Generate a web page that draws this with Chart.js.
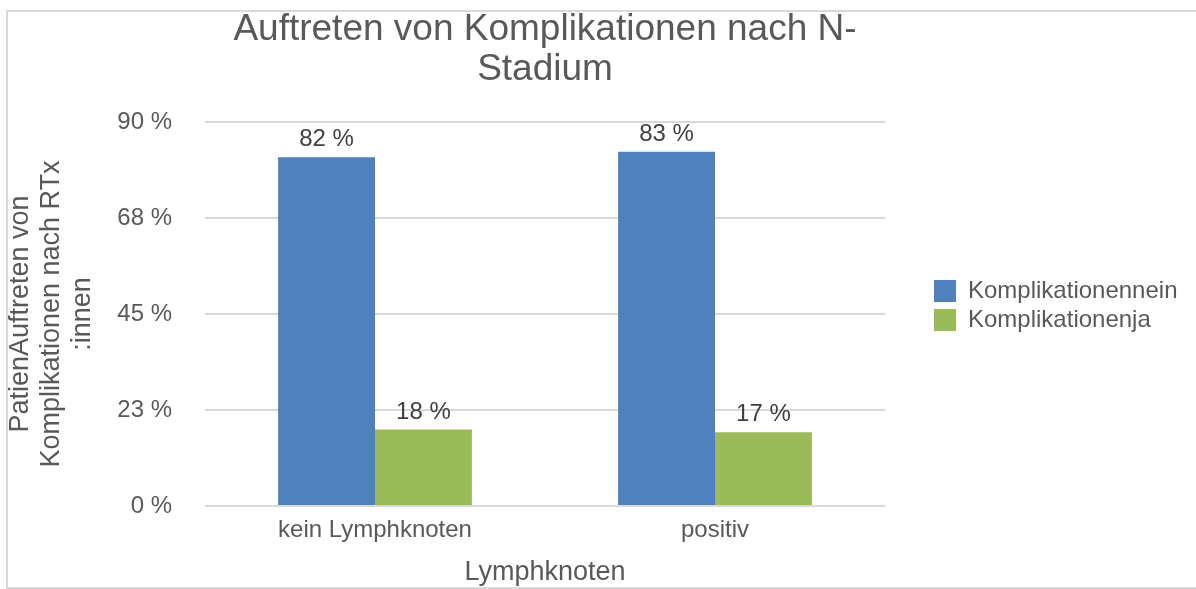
<!DOCTYPE html>
<html>
<head>
<meta charset="utf-8">
<script src="https://cdn.jsdelivr.net/npm/chart.js@4"></script>
<style>
  body { margin: 0; background: #fff; overflow: hidden; }
  #frame {
    position: absolute; left: 6px; top: 10px;
    width: 1200px; height: 579px;
    border: 2px solid #d9d9d9; box-sizing: border-box;
  }
  #wrap { position: absolute; left: 0; top: 0; width: 1188px; height: 575px; }
</style>
</head>
<body>
<div id="frame"><div id="wrap"><canvas id="mychart"></canvas></div></div>
<script>
// Daten
const categories = ["kein Lymphknoten", "positiv"];
const komplikationenNein = [81.7, 83.0];
const komplikationenJa = [17.9, 17.3];
const valueLabels = [["82 %", "83 %"], ["18 %", "17 %"]];
const yTicks = [0, 22.5, 45, 67.5, 90];
const yTickLabels = ["0 %", "23 %", "45 %", "68 %", "90 %"];

const FONT = "'Liberation Sans', Arial, sans-serif";

// Werte über den Balken
const barLabels = {
  id: "barLabels",
  afterDatasetsDraw(chart) {
    const c = chart.ctx;
    c.save();
    c.font = "24px " + FONT;
    c.fillStyle = "#404040";
    c.textAlign = "center";
    c.textBaseline = "alphabetic";
    chart.data.datasets.forEach((ds, i) => {
      chart.getDatasetMeta(i).data.forEach((bar, j) => {
        c.fillText(valueLabels[i][j], bar.x, bar.y - 11);
      });
    });
    c.restore();
  },
};

// Legende: etwas Abstand zum Diagramm
const legendGap = {
  id: "legendGap",
  beforeLayout(chart) {
    const lg = chart.legend;
    if (lg && !lg._gapPatched) {
      const fit = lg.fit.bind(lg);
      lg.fit = function () {
        fit();
        this.width = 311;
      };
      lg._gapPatched = true;
    }
  },
  afterLayout(chart) {
    const lg = chart.legend;
    lg.left += 44;
    lg.top += 6;
    lg.bottom += 6;
  },
};

const ctx = document.getElementById("mychart");

new Chart(ctx, {
  type: "bar",
  data: {
    labels: categories,
    datasets: [
      {
        label: "Komplikationennein",
        data: komplikationenNein,
        backgroundColor: "#4f81bd",
        categoryPercentage: 0.57,
        barPercentage: 1.0,
      },
      {
        label: "Komplikationenja",
        data: komplikationenJa,
        backgroundColor: "#9bbb59",
        categoryPercentage: 0.57,
        barPercentage: 1.0,
      },
    ],
  },
  options: {
    responsive: true,
    maintainAspectRatio: false,
    animation: false,
    layout: { padding: 0 },
    plugins: {
      title: {
        display: true,
        fullSize: false,
        text: ["Auftreten von Komplikationen nach N-", "Stadium"],
        color: "#595959",
        font: { family: FONT, size: 37, weight: "normal", lineHeight: 1.08 },
        padding: { top: -2, bottom: 32 },
      },
      legend: {
        position: "right",
        labels: {
          color: "#595959",
          font: { family: FONT, size: 24 },
          boxWidth: 22,
          boxHeight: 22,
          padding: 5,
        },
      },
      tooltip: { enabled: false },
    },
    scales: {
      x: {
        afterFit(axis) { axis.height = 81; },
        grid: { display: false, drawTicks: false },
        border: { display: false },
        ticks: { color: "#595959", font: { family: FONT, size: 24 }, padding: 10 },
        title: {
          display: true,
          text: "Lymphknoten",
          color: "#595959",
          font: { family: FONT, size: 27, lineHeight: 1.0 },
          padding: { top: 0, bottom: 1 },
        },
      },
      y: {
        min: 0,
        max: 90,
        afterFit(axis) { axis.width = 197; },
        afterBuildTicks(axis) {
          axis.ticks = yTicks.map((v) => ({ value: v }));
        },
        grid: { color: "#d9d9d9", lineWidth: 2, drawTicks: false },
        border: { display: false },
        ticks: {
          color: "#595959",
          font: { family: FONT, size: 24 },
          padding: 33,
          callback: (v) => yTickLabels[yTicks.indexOf(v)],
        },
        title: {
          display: true,
          text: ["PatienAuftreten von", "Komplikationen nach RTx", ":innen"],
          color: "#595959",
          font: { family: FONT, size: 27, lineHeight: 1.15 },
          padding: { top: -3, bottom: 0 },
        },
      },
    },
  },
  plugins: [barLabels, legendGap],
});
</script>
</body>
</html>
